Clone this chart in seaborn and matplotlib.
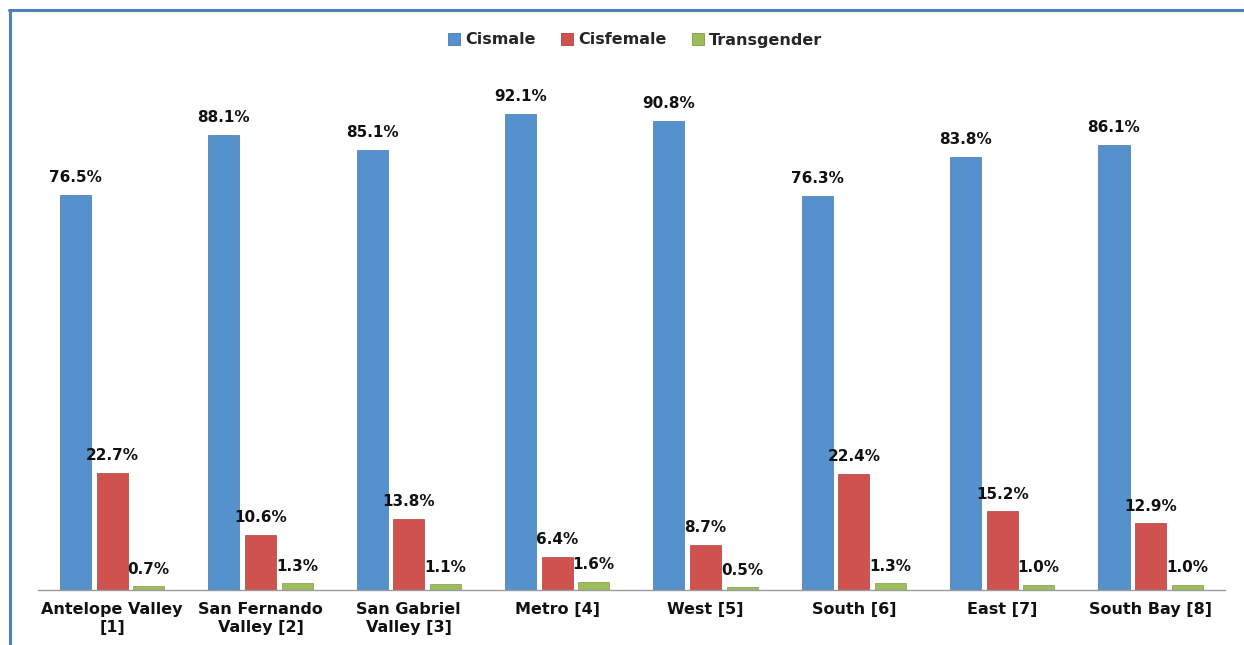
import pandas as pd
import matplotlib.pyplot as plt
import seaborn as sns
from matplotlib.lines import Line2D

# Values (percent of each region)
regions = ["Antelope Valley\n[1]", "San Fernando\nValley [2]", "San Gabriel\nValley [3]",
           "Metro [4]", "West [5]", "South [6]", "East [7]", "South Bay [8]"]
groups = ["Cismale", "Cisfemale", "Transgender"]
cismale = [76.5, 88.1, 85.1, 92.1, 90.8, 76.3, 83.8, 86.1]
cisfemale = [22.7, 10.6, 13.8, 6.4, 8.7, 22.4, 15.2, 12.9]
transgender = [0.7, 1.3, 1.1, 1.6, 0.5, 1.3, 1.0, 1.0]
colors = ["#5592CD", "#D0524E", "#9DBD5A"]
edge_cols = ["#4677AA", "#A84340", "#7F9A48"]

rows = []
for g, vals in zip(groups, [cismale, cisfemale, transgender]):
    for r, v in zip(regions, vals):
        rows.append({"region": r, "group": g, "pct": v})
df = pd.DataFrame(rows)

sns.set_theme(style="white")
plt.rcParams['font.family'] = ['DejaVu Sans']

fig = plt.figure(figsize=(12.44, 6.45), dpi=100)
ax = fig.add_axes([0.0305, 0.0853, 0.954, 0.8015])

sns.barplot(data=df, x="region", y="pct", hue="group", hue_order=groups,
            palette=colors, saturation=1, width=0.74, gap=0.15, ax=ax,
            legend=False, linewidth=0.5)

# darker edges per series + value labels
for cont, ec in zip(ax.containers, edge_cols):
    for b in cont:
        b.set_edgecolor(ec)
    ax.bar_label(cont, fmt="%.1f%%", padding=7, fontsize=11, fontweight="bold",
                 color="#111111")

ax.set_xlim(-0.5, 7.5)
ax.set_ylim(0, 100)
ax.set_xlabel("")
ax.set_ylabel("")
ax.set_yticks([])
for s in ["left", "right", "top"]:
    ax.spines[s].set_visible(False)
ax.spines["bottom"].set_color("#9a9a9a")
ax.spines["bottom"].set_linewidth(1.0)
ax.tick_params(axis="x", length=0, pad=9)
for lbl in ax.get_xticklabels():
    lbl.set_fontsize(11.5)
    lbl.set_fontweight("bold")
    lbl.set_color("#111111")
    lbl.set_linespacing(1.25)

# legend at the top
handles = [plt.Rectangle((0, 0), 1, 1, facecolor=c, edgecolor=e, linewidth=0.6)
           for c, e in zip(colors, edge_cols)]
fig.legend(handles, groups, loc="center", bbox_to_anchor=(635 / 1244, 1 - 40 / 645),
           ncol=3, frameon=False, handlelength=0.75, handleheight=0.75,
           handletextpad=0.3, columnspacing=1.6,
           prop={"size": 11.5, "weight": "bold"})

# blue frame (top and left edges of the chart box)
frame_col = "#4F81BD"
fig.add_artist(Line2D([8.5 / 1244, 1], [1 - 9.5 / 645, 1 - 9.5 / 645],
                      transform=fig.transFigure, color=frame_col, linewidth=2.2))
fig.add_artist(Line2D([9.5 / 1244, 9.5 / 1244], [0, 1 - 9.5 / 645],
                      transform=fig.transFigure, color=frame_col, linewidth=2.2))

fig.savefig("out.png", dpi=100, facecolor="white")
